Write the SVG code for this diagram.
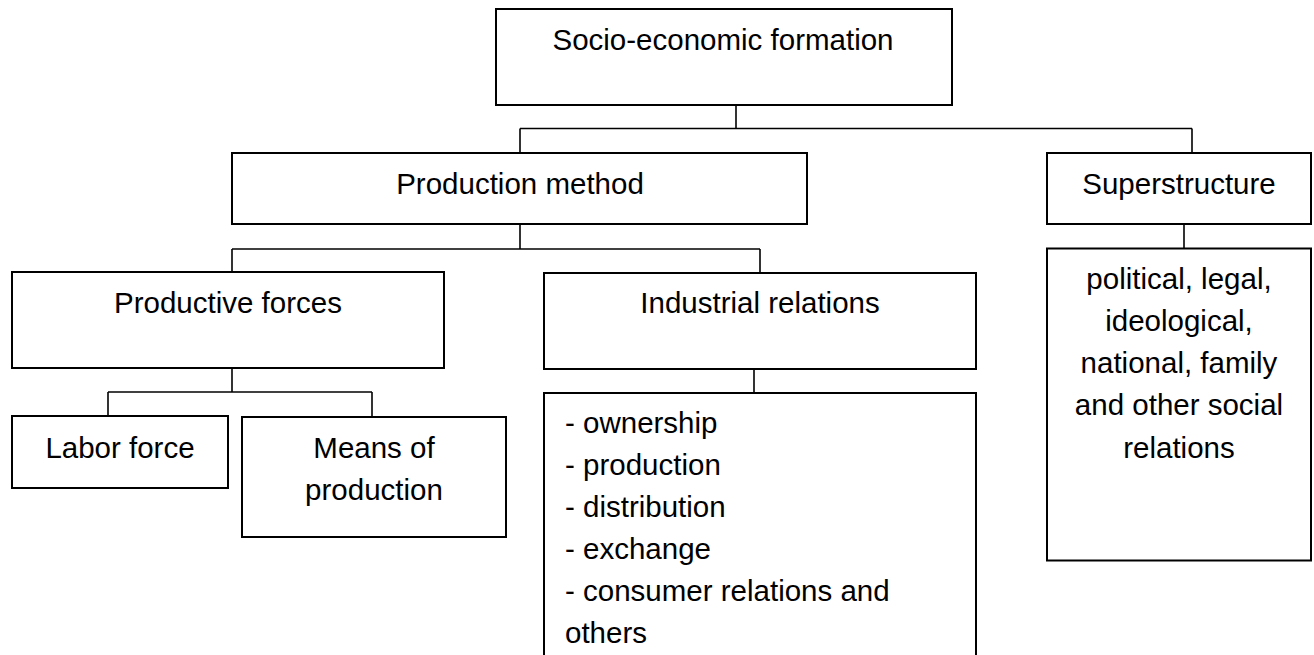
<svg xmlns="http://www.w3.org/2000/svg" width="1314" height="655" viewBox="0 0 1314 655">
  <style>
    .box { fill: #ffffff; stroke: #000000; stroke-width: 2; }
    .link { fill: none; stroke: #000000; stroke-width: 1.6; }
    .label { font-family: "Liberation Sans", Arial, sans-serif; font-size: 29.5px; fill: #000000; }
    .mid { text-anchor: middle; }
  </style>
  <rect x="0" y="0" width="1314" height="655" fill="#ffffff"/>

  <!-- connectors -->
  <g id="connectors" class="link">
    <path d="M736 105 V128.5"/>
    <path d="M520 128.5 H1192"/>
    <path d="M520 128.5 V153"/>
    <path d="M1192 128.5 V153"/>
    <path d="M520 224 V249"/>
    <path d="M232 249 H760"/>
    <path d="M232 249 V272"/>
    <path d="M760 249 V273"/>
    <path d="M1184 224 V248.5"/>
    <path d="M754 369 V393"/>
    <path d="M232 368 V392"/>
    <path d="M108 392 H372"/>
    <path d="M108 392 V416"/>
    <path d="M372 392 V417"/>
  </g>

  <g id="socio-economic-formation">
    <rect class="box" x="496" y="9" width="456" height="96"/>
    <text class="label mid" x="723" y="50">Socio-economic formation</text>
  </g>

  <g id="production-method">
    <rect class="box" x="232" y="153" width="575" height="71"/>
    <text class="label mid" x="520" y="194">Production method</text>
  </g>

  <g id="superstructure">
    <rect class="box" x="1047" y="153" width="264" height="71"/>
    <text class="label mid" x="1179" y="194">Superstructure</text>
  </g>

  <g id="productive-forces">
    <rect class="box" x="12" y="272" width="432" height="96"/>
    <text class="label mid" x="228" y="313">Productive forces</text>
  </g>

  <g id="industrial-relations">
    <rect class="box" x="544" y="273" width="432" height="96"/>
    <text class="label mid" x="760" y="313">Industrial relations</text>
  </g>

  <g id="labor-force">
    <rect class="box" x="12" y="416" width="216" height="72"/>
    <text class="label mid" x="120" y="457.5">Labor force</text>
  </g>

  <g id="means-of-production">
    <rect class="box" x="242" y="417" width="264" height="120"/>
    <text class="label mid" x="374" y="457.5">Means of</text>
    <text class="label mid" x="374" y="499.5">production</text>
  </g>

  <g id="relation-types">
    <rect class="box" x="544" y="393" width="432" height="300"/>
    <text class="label" x="565" y="432.5">- ownership</text>
    <text class="label" x="565" y="474.5">- production</text>
    <text class="label" x="565" y="516.5">- distribution</text>
    <text class="label" x="565" y="558.5">- exchange</text>
    <text class="label" x="565" y="600.5">- consumer relations and</text>
    <text class="label" x="565" y="642.5">others</text>
  </g>

  <g id="social-relations">
    <rect class="box" x="1047" y="248.5" width="264" height="312"/>
    <text class="label mid" x="1179" y="289">political, legal,</text>
    <text class="label mid" x="1179" y="331">ideological,</text>
    <text class="label mid" x="1179" y="373">national, family</text>
    <text class="label mid" x="1179" y="415">and other social</text>
    <text class="label mid" x="1179" y="458">relations</text>
  </g>
</svg>
